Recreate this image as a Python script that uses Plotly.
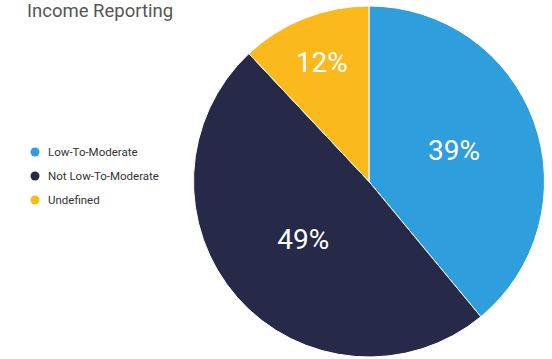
import plotly.graph_objects as go

# Income reporting breakdown
categories = ["Low-To-Moderate", "Not Low-To-Moderate", "Undefined"]
shares = [39, 49, 12]
colors = ["#2E9EDC", "#262A48", "#FBB91C"]

W, H = 552, 359

fig = go.Figure()

fig.add_trace(go.Pie(
    labels=categories,
    values=shares,
    marker=dict(colors=colors, line=dict(color="#FFFFFF", width=1)),
    sort=False,
    direction="clockwise",
    rotation=0,
    texttemplate="%{value}%",
    textinfo="text",
    textposition="inside",
    insidetextfont=dict(color="#FFFFFF", size=28, family="Roboto"),
    insidetextorientation="horizontal",
    showlegend=False,
    hoverinfo="label+percent",
    domain=dict(x=[193 / W, 545 / W], y=[2 / H, 353 / H]),
))

# Legend: a small dot plus label per category, stacked on the left
legend_x_px = 35      # dot centre
legend_top_px = 152   # first row centre
row_step_px = 24
dot_r = 4.5
shapes = []
annotations = []
for i, (name, col) in enumerate(zip(categories, colors)):
    cy = legend_top_px + i * row_step_px
    shapes.append(dict(
        type="circle", xref="paper", yref="paper",
        x0=(legend_x_px - dot_r) / W, x1=(legend_x_px + dot_r) / W,
        y0=1 - (cy + dot_r) / H, y1=1 - (cy - dot_r) / H,
        fillcolor=col, line=dict(width=0),
    ))
    annotations.append(dict(
        text=name, xref="paper", yref="paper",
        x=(legend_x_px + 11) / W, xanchor="left",
        y=1 - cy / H, yanchor="middle",
        showarrow=False,
        font=dict(family="Roboto", size=11.5, color="#333333"),
    ))

fig.update_layout(
    width=W,
    height=H,
    margin=dict(l=0, r=0, t=0, b=0),
    paper_bgcolor="#FFFFFF",
    plot_bgcolor="#FFFFFF",
    title=dict(
        text="Income Reporting",
        x=27 / W, xanchor="left",
        y=1 - 11 / H, yanchor="middle",
        font=dict(family="Roboto", size=18.5, color="#555555"),
    ),
    shapes=shapes,
    annotations=annotations,
)

fig.write_html("out.html")
